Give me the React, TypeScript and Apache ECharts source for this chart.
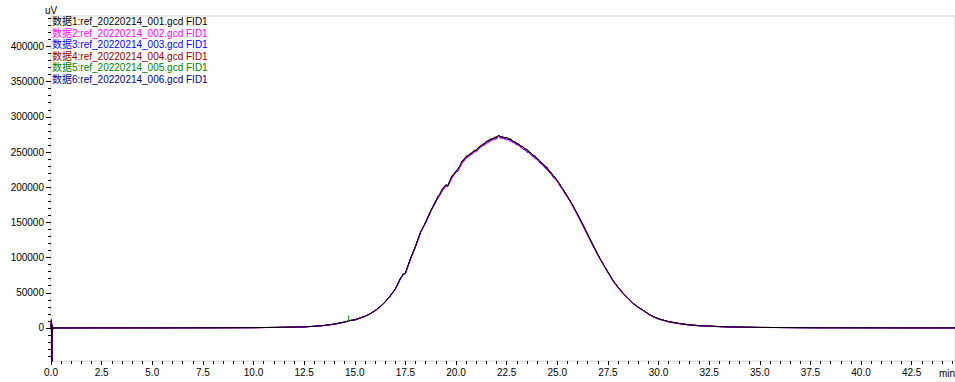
import { useEffect, useRef } from "react";
import * as echarts from "echarts";

// retention time (min)
const times = [
  0, 0.02, 0.04, 0.06, 0.08, 0.1, 0.15, 0.5, 2.5, 5, 7.5, 10, 11, 12, 12.5, 13, 13.5, 14,
  14.25, 14.5, 14.75, 15, 15.25, 15.5, 15.75, 16, 16.25, 16.5, 16.75, 17, 17.25, 17.4, 17.5, 17.6, 17.75, 18, 18.25, 18.5, 18.75,
  19.0, 19.1, 19.2, 19.3, 19.4, 19.5, 19.6, 19.7, 19.8, 19.9,
  20.0, 20.1, 20.2, 20.3, 20.4, 20.5, 20.6, 20.7, 20.8, 20.9,
  21.0, 21.1, 21.2, 21.3, 21.4, 21.5, 21.6, 21.7, 21.8, 21.9,
  22.0, 22.1, 22.2, 22.3, 22.4, 22.5, 22.6, 22.7, 22.8, 22.9,
  23.0, 23.1, 23.2, 23.3, 23.4, 23.5, 23.6, 23.7, 23.8, 23.9,
  24.0, 24.1, 24.2, 24.3, 24.4, 24.5, 24.6, 24.7, 24.8, 24.9,
  25.0, 25.1, 25.2, 25.3, 25.4, 25.5,
  25.75, 26, 26.25, 26.5, 26.75, 27, 27.25, 27.5, 27.75, 28, 28.25, 28.5, 28.75, 29, 29.25, 29.5, 29.75, 30,
  30.5, 31, 31.5, 32, 32.5, 33, 34, 35, 37.5, 40, 42.5, 44.64,
];

// signal in thousands of uV
const data1 = [
  0, 11, -60, 4, -3, 1, 0, 0.1, 0.2, 0.2, 0.3, 0.5, 0.8, 1.2, 1.6, 2.4, 3.6, 5.5,
  7.0, 8.4, 10.6, 11.5, 14, 16.5, 20, 24.5, 30, 37, 45.5, 55, 70, 76.5, 77.5, 86, 98, 116, 136, 150, 166,
  179.5, 186.5, 189.5, 196, 200.5, 203.5, 201.5, 209.5, 216.5, 218,
  223, 225.5, 231, 237.5, 239, 244, 244.5, 248, 248, 252.5,
  252, 256.5, 257, 261, 261.5, 265.5, 265, 268.5, 268, 271,
  270.5, 274, 271.5, 272.5, 269.5, 271, 267.5, 268.5, 265, 265,
  261.5, 261.5, 258, 258, 254, 254, 249.5, 249, 245, 244.5,
  240, 239, 234.5, 233.5, 229, 228, 222.5, 221, 215.5, 214,
  208.5, 205.5, 200, 196.5, 191, 187,
  175, 161.5, 147.5, 133, 118.5, 104.5, 91.5, 79.5, 67.5, 58, 49.5, 42, 35, 29.5, 25, 20, 16, 13,
  9, 6.5, 4.5, 3.3, 2.6, 2, 1.2, 0.8, 0.4, 0.3, 0.2, 0.2,
];
const data2 = [
  0, 13, -60, 6, -2, 0.5, 0, 0, 0.1, 0.2, 0.2, 0.4, 0.7, 1.1, 1.5, 2.3, 3.5, 5.3,
  6.8, 8.2, 10.3, 11.3, 13.7, 16.2, 19.6, 24, 29.5, 36.5, 45, 54.5, 69, 76, 77, 85, 97, 115, 135, 149, 165,
  179, 183.5, 190.5, 193.5, 197, 202, 201.5, 207, 214, 216.5,
  222, 224, 228.5, 235, 237, 242, 242.5, 247.5, 247, 250,
  250, 254, 256, 259.5, 259.5, 262.5, 263, 266.5, 267, 267.5,
  270, 272, 269, 270, 268, 269.5, 266.5, 264.5, 264.5, 262,
  260, 259.5, 256, 255, 253.5, 250.5, 249.5, 246, 243, 242,
  239, 237, 233, 231, 228, 224, 222.5, 218, 215, 210.5,
  208.5, 203, 199, 195, 189.5, 186,
  173.5, 160, 146, 131.5, 117, 103.5, 90.5, 78.5, 66.5, 57, 48.5, 41.5, 34.5, 29, 24.5, 19.5, 15.5, 12.5,
  8.5, 6, 4.2, 3, 2.4, 1.8, 1.1, 0.7, 0.3, 0.2, 0.2, 0.1,
];
const data3 = [
  0, 7, -55, 3, -2, 0.5, 0, 0.1, 0.2, 0.3, 0.3, 0.5, 0.8, 1.2, 1.7, 2.4, 3.7, 5.6,
  7.1, 8.5, 10.5, 11.6, 14.2, 16.6, 20.3, 24.7, 30.3, 37.2, 46, 55.5, 70.5, 76.8, 78, 86.5, 98.5, 116.5, 136.5, 150.5, 166.5,
  180.5, 184.5, 188.5, 195, 198.5, 200.5, 203, 207.5, 213, 219,
  221, 223, 230, 234, 239, 240.5, 245, 245.5, 247, 250.5,
  252, 253.5, 258.5, 258.5, 259.5, 263, 266, 265.5, 268, 268.5,
  268.5, 273, 271, 269, 269.5, 267, 268, 266, 263.5, 263,
  260.5, 260, 257.5, 254, 253, 249.5, 249.5, 245.5, 244.5, 240.5,
  240, 236, 233, 231.5, 227, 225.5, 221.5, 219, 214, 211.5,
  208.5, 203, 200, 194.5, 190.5, 186.5,
  174, 160.5, 146.5, 132, 117.5, 104, 91, 79, 67, 57.5, 49, 41.5, 34.8, 29.2, 24.8, 19.8, 15.8, 12.8,
  8.8, 6.3, 4.4, 3.2, 2.5, 1.9, 1.2, 0.8, 0.4, 0.3, 0.2, 0.2,
];
const data4 = [
  0, 8, -50, 3, -2, 1, 0, 0.1, 0.2, 0.2, 0.3, 0.5, 0.8, 1.2, 1.6, 2.4, 3.6, 5.5,
  7.1, 8.3, 10.5, 11.6, 13.9, 16.6, 20.1, 24.4, 30.2, 36.8, 45.7, 55.2, 69.5, 76.8, 77.8, 85.8, 98.2, 115.8, 136.2, 149.8, 166.2,
  181, 185.5, 190, 196, 199.5, 202, 202.5, 209, 214, 219.5,
  223, 225.5, 230, 237, 239, 243.5, 245, 246, 249.5, 252,
  252.5, 255.5, 259, 259, 262, 264.5, 265, 268.5, 269, 269.5,
  272, 272.5, 272, 271.5, 269.5, 270, 269.5, 267, 266, 263,
  263, 260.5, 258, 257.5, 255, 252, 251, 248, 245.5, 244.5,
  240, 238, 236, 232, 230, 228, 222.5, 220, 217, 212.5,
  209.5, 206, 199.5, 196, 192, 187,
  175.2, 161.3, 147.6, 132.8, 118.6, 104.3, 91.6, 79.4, 67.6, 57.9, 49.6, 41.9, 35.1, 29.4, 25.1, 19.9, 16.1, 12.9,
  9.1, 6.4, 4.6, 3.3, 2.6, 2, 1.2, 0.8, 0.4, 0.3, 0.2, 0.2,
];
const data5 = [
  0, 6, -45, 2, -1, 0.5, 0, 0.1, 0.2, 0.2, 0.3, 0.5, 0.8, 1.2, 1.6, 2.4, 3.6, 5.4,
  6.9, 8.5, 10.5, 11.4, 14.1, 16.4, 20.1, 24.6, 29.9, 37.1, 45.4, 55.1, 69.8, 76.6, 77.4, 86.1, 97.9, 116.1, 135.9, 150.1, 165.9,
  180, 186.5, 189.5, 195, 200, 202.5, 202, 210, 215, 218,
  222.5, 226, 231, 235, 240, 243.5, 244.5, 248, 249, 250,
  253, 256, 257, 261, 262, 263.5, 266.5, 267.5, 268, 271,
  271, 273, 272, 270, 271, 270, 268, 268.5, 265, 264,
  263, 259.5, 259, 257.5, 254, 253, 251.5, 247.5, 246, 242.5,
  241.5, 238, 234.5, 232.5, 230.5, 226.5, 223.5, 221, 215.5, 213,
  210, 204.5, 200.5, 197, 191.5, 186.5,
  174.8, 161.6, 147.4, 133.1, 118.4, 104.6, 91.4, 79.6, 67.4, 58.1, 49.4, 42.1, 34.9, 29.6, 24.9, 20.1, 15.9, 13.1,
  8.9, 6.6, 4.5, 3.3, 2.6, 2, 1.2, 0.8, 0.4, 0.3, 0.2, 0.2,
];
const data6 = [
  0, 10, -58, 5, -2, 0.5, 0, 0.1, 0.2, 0.2, 0.3, 0.5, 0.8, 1.2, 1.6, 2.4, 3.6, 5.5,
  6.9, 8.4, 10.6, 11.4, 14.1, 16.5, 19.9, 24.6, 30.1, 36.9, 45.6, 54.9, 70.1, 76.4, 77.6, 85.9, 98.1, 115.9, 136.1, 149.9, 166.1,
  179.5, 185.5, 191, 194, 199.5, 203.5, 201.5, 209, 215.5, 218,
  222, 226.5, 229, 236, 240.5, 242.5, 245, 246, 249.5, 251,
  252, 255.5, 258.5, 259.5, 261, 264, 266.5, 266.5, 269, 269.5,
  271.5, 272.5, 272, 270.5, 270.5, 269, 269, 267.5, 265, 264,
  262, 261, 258, 257, 254.5, 253, 249.5, 248.5, 245, 243.5,
  240.5, 238, 234.5, 232.5, 229.5, 227.5, 222.5, 220, 216, 213,
  208.5, 205.5, 200.5, 195.5, 191.5, 186.5,
  174.9, 161.4, 147.5, 132.9, 118.5, 104.4, 91.5, 79.5, 67.5, 58, 49.5, 42, 35, 29.5, 25, 20, 16, 13,
  9, 6.5, 4.5, 3.3, 2.6, 2, 1.2, 0.8, 0.4, 0.3, 0.2, 0.2,
];

const seriesNames = [
  "数据1:ref_20220214_001.gcd FID1",
  "数据2:ref_20220214_002.gcd FID1",
  "数据3:ref_20220214_003.gcd FID1",
  "数据4:ref_20220214_004.gcd FID1",
  "数据5:ref_20220214_005.gcd FID1",
  "数据6:ref_20220214_006.gcd FID1",
];
const seriesColors = ["#000000", "#ff00ff", "#0000ff", "#8b0000", "#008000", "#000080"];
const seriesData = [data1, data2, data3, data4, data5, data6];

const yLabelValues = [0, 50000, 100000, 150000, 200000, 250000, 300000, 350000, 400000];
const xLabelValues = [0, 2.5, 5, 7.5, 10, 12.5, 15, 17.5, 20, 22.5, 25, 27.5, 30, 32.5, 35, 37.5, 40, 42.5];

// peak-start marker on run 5: [time, from, to]
const peakMarker = [14.66, 9000, 18000];

const Y_MIN = -46900;
const Y_MAX = 443200;
const X_MIN = 0;
const X_MAX = 44.64;
const FONT = '"Liberation Sans", Arial, "Noto Sans CJK SC", sans-serif';

function ticks(from: number, to: number, step: number) {
  const out: number[] = [];
  for (let v = from; v <= to + 1e-9; v += step) out.push(Math.round(v * 1000) / 1000);
  return out;
}

export default function App() {
  const ref = useRef<HTMLDivElement>(null);
  useEffect(() => {
    if (!ref.current) return;
    const chart = echarts.init(ref.current, undefined, { renderer: "svg" });
    const yMinor = ticks(-40000, 440000, 10000);
    const xMinor = ticks(0, 44.5, 0.5);

    const series: any[] = [];
    for (let k = seriesData.length - 1; k >= 0; k--) {
      const vals = seriesData[k];
      const n = Math.min(vals.length, times.length);
      const pts: number[][] = [];
      for (let i = 0; i < n; i++) pts.push([times[i], vals[i] * 1000]);
      const s: any = {
        name: seriesNames[k],
        type: "line",
        data: pts,
        showSymbol: false,
        symbol: "none",
        silent: true,
        clip: true,
        lineStyle: { color: seriesColors[k], width: 1 },
        itemStyle: { color: seriesColors[k] },
      };
      if (k === 4) {
        s.markLine = {
          silent: true,
          symbol: ["none", "none"],
          label: { show: false },
          lineStyle: { color: "#22aa22", width: 1, type: "solid" },
          data: [[{ coord: [peakMarker[0], peakMarker[1]] }, { coord: [peakMarker[0], peakMarker[2]] }]],
        };
      }
      series.push(s);
    }

    const labelStyle = { color: "#000", fontSize: 10, fontFamily: FONT };

    chart.setOption({
      animation: false,
      backgroundColor: "#ffffff",
      grid: {
        left: 51,
        right: 0,
        top: 16,
        bottom: 21,
        show: true,
        borderColor: "#d4d4d4",
        borderWidth: 1,
        backgroundColor: "transparent",
      },
      xAxis: [
        {
          type: "value",
          min: X_MIN,
          max: X_MAX,
          position: "bottom",
          axisLine: { show: false, onZero: false },
          splitLine: { show: false },
          axisTick: { show: true, length: 4, customValues: xLabelValues, lineStyle: { color: "#000" } },
          axisLabel: {
            ...labelStyle,
            customValues: xLabelValues,
            margin: 6,
            formatter: (v: number) => v.toFixed(1),
          },
        },
        {
          type: "value",
          min: X_MIN,
          max: X_MAX,
          position: "bottom",
          axisLine: { show: false, onZero: false },
          splitLine: { show: false },
          axisTick: { show: true, length: 3, customValues: xMinor, lineStyle: { color: "#000" } },
          axisLabel: { show: false },
        },
      ],
      yAxis: [
        {
          type: "value",
          min: Y_MIN,
          max: Y_MAX,
          position: "left",
          axisLine: { show: false, onZero: false },
          splitLine: { show: false },
          axisTick: { show: true, length: 5, customValues: yLabelValues, lineStyle: { color: "#000" } },
          axisLabel: {
            ...labelStyle,
            customValues: yLabelValues,
            margin: 7,
            formatter: (v: number) => String(v),
          },
        },
        {
          type: "value",
          min: Y_MIN,
          max: Y_MAX,
          position: "left",
          axisLine: { show: false, onZero: false },
          splitLine: { show: false },
          axisTick: { show: true, length: 3, customValues: yMinor, lineStyle: { color: "#000" } },
          axisLabel: { show: false },
        },
      ],
      graphic: [
        {
          type: "text",
          x: 45,
          y: 10.5,
          style: { text: "uV", font: `10px ${FONT}`, fill: "#000", verticalAlign: "middle", textVerticalAlign: "middle" },
        },
        {
          type: "text",
          x: 939,
          y: 373,
          style: { text: "min", font: `10px ${FONT}`, fill: "#000", verticalAlign: "middle", textVerticalAlign: "middle" },
        },
        ...seriesNames.map((name, i) => ({
          type: "text",
          x: 52,
          y: 21.5 + i * 11.5,
          z: 10,
          style: {
            text: name,
            font: `10px ${FONT}`,
            fill: seriesColors[i],
            verticalAlign: "middle",
            textVerticalAlign: "middle",
          },
        })),
      ],
      series,
    });
    return () => chart.dispose();
  }, []);

  return (
    <div
      ref={ref}
      style={{ position: "fixed", left: 0, top: 0, width: 955, height: 382, background: "#fff" }}
    />
  );
}
